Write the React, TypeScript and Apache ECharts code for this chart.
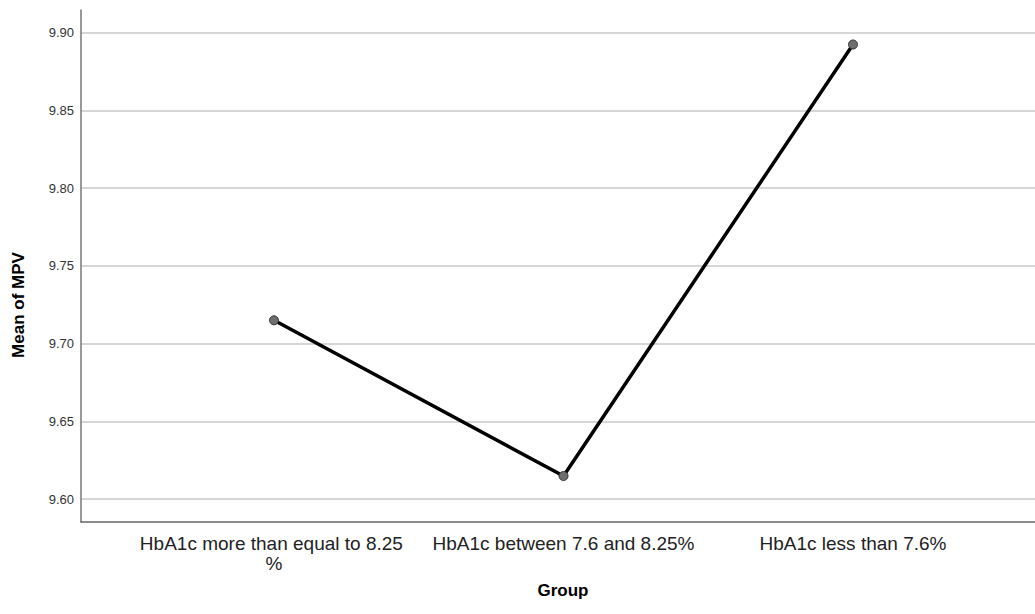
import React, { useEffect, useRef } from "react";
import * as echarts from "echarts";

const categories = [
  "HbA1c more than equal to 8.25 %",
  "HbA1c between 7.6 and 8.25%",
  "HbA1c less than 7.6%",
];
const meanMPV = [9.715, 9.6148, 9.8925];
const yTicks = [9.6, 9.65, 9.7, 9.75, 9.8, 9.85, 9.9];
const xTitle = "Group";
const yTitle = "Mean of MPV";

export default function App() {
  const ref = useRef<HTMLDivElement>(null);
  useEffect(() => {
    if (!ref.current) return;
    const chart = echarts.init(ref.current, undefined, { renderer: "svg" });
    const font = "'Liberation Sans', Arial, sans-serif";
    chart.setOption({
      animation: false,
      backgroundColor: "#ffffff",
      textStyle: { fontFamily: font },
      grid: {
        left: 81,
        right: 0,
        top: 10,
        bottom: 92,
        containLabel: false,
        outerBoundsMode: "none",
      },
      graphic: [
        {
          type: "text",
          x: 18,
          y: 305,
          rotation: Math.PI / 2,
          style: {
            text: yTitle,
            fontSize: 17,
            fontWeight: "bold",
            fill: "#000",
            fontFamily: font,
            align: "center",
            verticalAlign: "middle",
          },
        },
        {
          type: "text",
          x: 563,
          y: 590,
          style: {
            text: xTitle,
            fontSize: 17,
            fontWeight: "bold",
            fill: "#000",
            fontFamily: font,
            align: "center",
            verticalAlign: "middle",
          },
        },
      ],
      xAxis: {
        type: "value",
        min: -0.6667,
        max: 2.6287,
        axisLine: { show: true, onZero: false, lineStyle: { color: "#666", width: 1.5 } },
        axisTick: { show: false, customValues: [0, 1, 2] },
        splitLine: { show: false },
        axisLabel: {
          customValues: [0, 1, 2],
          formatter: (v: number) => categories[Math.round(v)] ?? "",
          fontSize: 19,
          color: "#222",
          margin: 11,
          width: 278,
          overflow: "break",
          lineHeight: 20,
          fontFamily: font,
        },
      },
      yAxis: {
        type: "value",
        min: 9.5852,
        max: 9.9147,
        axisLine: { show: true, onZero: false, lineStyle: { color: "#777", width: 1.5 } },
        axisTick: { show: false, customValues: yTicks },
        axisLabel: {
          customValues: yTicks,
          formatter: (v: number) => v.toFixed(2),
          fontSize: 13,
          color: "#333",
          margin: 7,
          fontFamily: font,
        },
        splitLine: { show: true, lineStyle: { color: "#c8c8c8", width: 1.5 } },
      },
      series: [
        {
          type: "line",
          data: meanMPV.map((v, i) => [i, v]),
          lineStyle: { color: "#000", width: 3.5 },
          symbol: "circle",
          symbolSize: 9,
          itemStyle: { color: "#6e6e6e", borderColor: "#333", borderWidth: 1 },
          z: 5,
        },
      ],
    });
    return () => chart.dispose();
  }, []);
  return (
    <div
      ref={ref}
      style={{ position: "fixed", left: 0, top: 0, width: 1035, height: 614, background: "#fff" }}
    />
  );
}
